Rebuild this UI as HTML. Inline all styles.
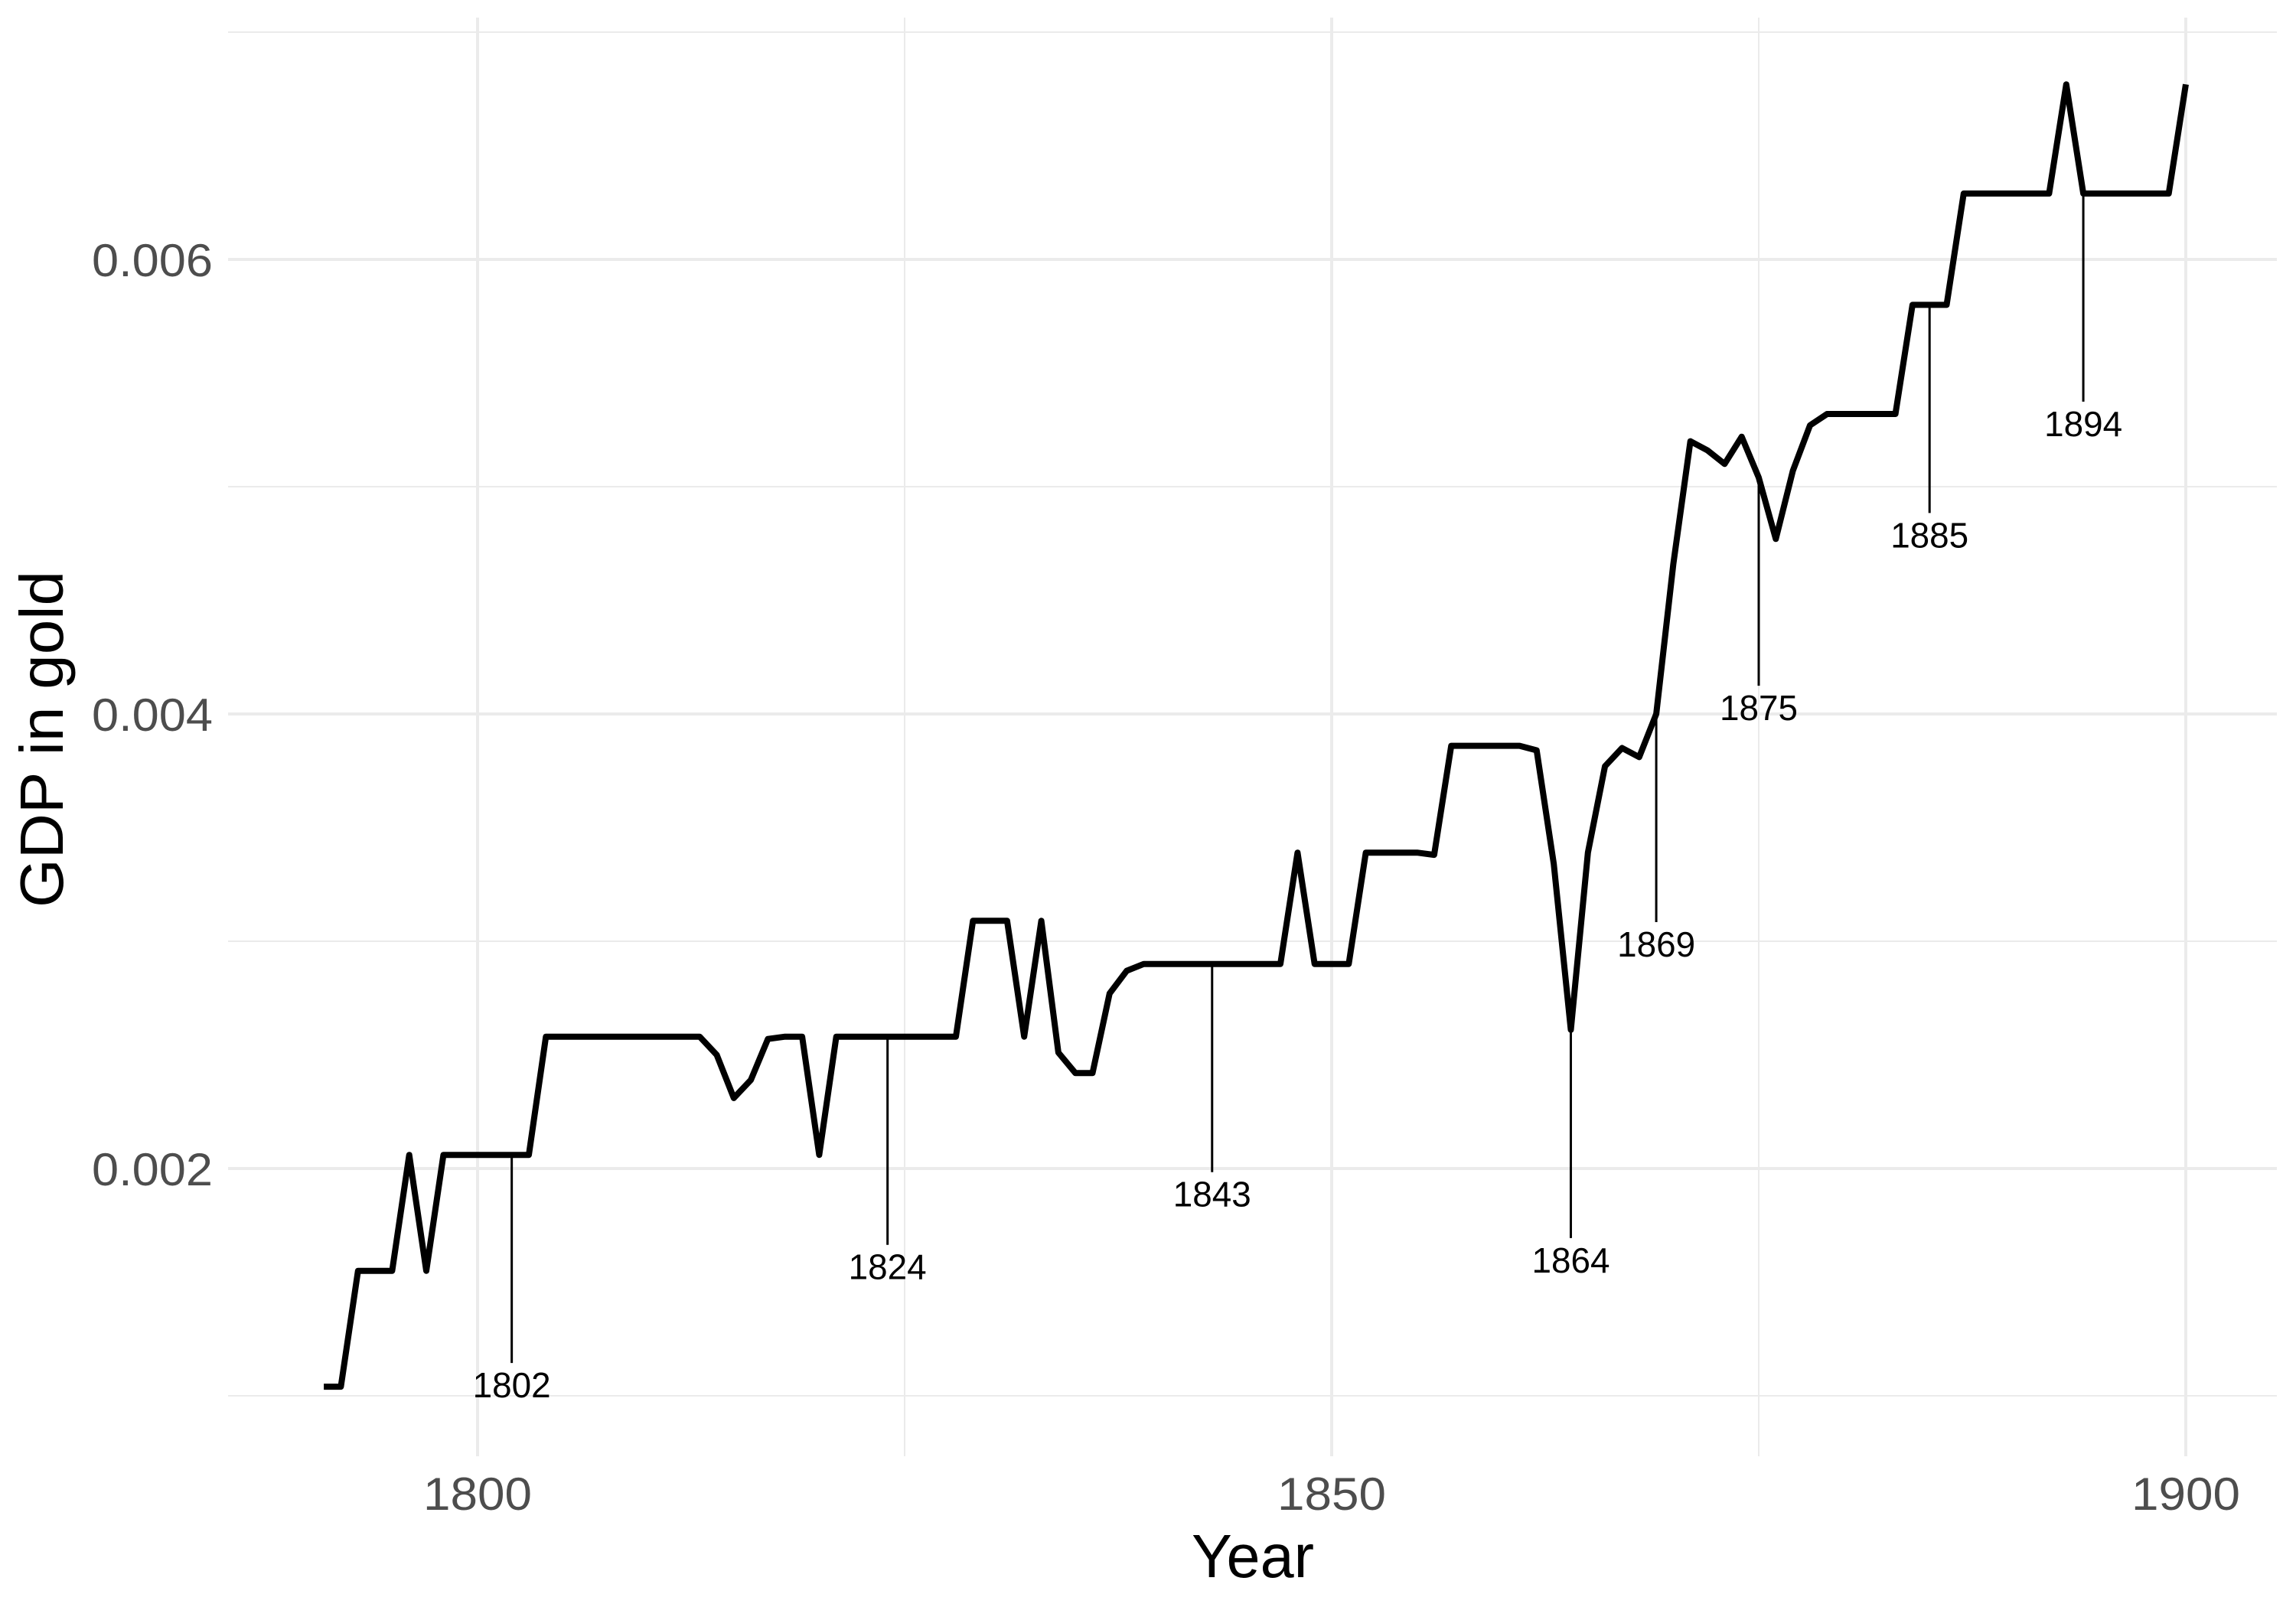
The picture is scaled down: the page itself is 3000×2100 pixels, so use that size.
<!DOCTYPE html>
<html><head><meta charset="utf-8"><style>
html,body{margin:0;padding:0;background:#fff;}
svg{display:block;font-family:"Liberation Sans",sans-serif;}
</style></head><body>
<svg id="chart" width="3000" height="2100" viewBox="0 0 3000 2100" xmlns="http://www.w3.org/2000/svg">
<rect x="0" y="0" width="3000" height="2100" fill="#fff"/>
<g id="grid"></g>
<g id="marks"></g>
<g id="axes"></g>
<text x="1637" y="2061" font-size="80" text-anchor="middle" fill="#000" textLength="160" lengthAdjust="spacingAndGlyphs">Year</text>
<text x="0" y="0" transform="translate(82,966) rotate(-90)" font-size="80" text-anchor="middle" fill="#000" textLength="440" lengthAdjust="spacingAndGlyphs">GDP in gold</text>
</svg>
<script>
const years = [1791,1792,1793,1794,1795,1796,1797,1798,1799,1800,1801,1802,1803,1804,1805,1806,1807,1808,1809,1810,1811,1812,1813,1814,1815,1816,1817,1818,1819,1820,1821,1822,1823,1824,1825,1826,1827,1828,1829,1830,1831,1832,1833,1834,1835,1836,1837,1838,1839,1840,1841,1842,1843,1844,1845,1846,1847,1848,1849,1850,1851,1852,1853,1854,1855,1856,1857,1858,1859,1860,1861,1862,1863,1864,1865,1866,1867,1868,1869,1870,1871,1872,1873,1874,1875,1876,1877,1878,1879,1880,1881,1882,1883,1884,1885,1886,1887,1888,1889,1890,1891,1892,1893,1894,1895,1896,1897,1898,1899,1900];
const gdp = [0.00104,0.00104,0.00155,0.00155,0.00155,0.00206,0.00155,0.00206,0.00206,0.00206,0.00206,0.00206,0.00206,0.00258,0.00258,0.00258,0.00258,0.00258,0.00258,0.00258,0.00258,0.00258,0.00258,0.00250,0.00231,0.00239,0.00257,0.00258,0.00258,0.00206,0.00258,0.00258,0.00258,0.00258,0.00258,0.00258,0.00258,0.00258,0.00309,0.00309,0.00309,0.00258,0.00309,0.00251,0.00242,0.00242,0.00277,0.00287,0.00290,0.00290,0.00290,0.00290,0.00290,0.00290,0.00290,0.00290,0.00290,0.00339,0.00290,0.00290,0.00290,0.00339,0.00339,0.00339,0.00339,0.00338,0.00386,0.00386,0.00386,0.00386,0.00386,0.00384,0.00334,0.00261,0.00339,0.00377,0.00385,0.00381,0.00400,0.00466,0.00520,0.00516,0.00510,0.00522,0.00504,0.00477,0.00507,0.00527,0.00532,0.00532,0.00532,0.00532,0.00532,0.00580,0.00580,0.00580,0.00629,0.00629,0.00629,0.00629,0.00629,0.00629,0.00677,0.00629,0.00629,0.00629,0.00629,0.00629,0.00629,0.00677];
const labelYears = [1802,1824,1843,1864,1869,1875,1885,1894];
const xTicks = [1800,1850,1900];
const xMinor = [1825,1875];
const yTicks = [0.002,0.004,0.006];
const yTickLabels = ["0.002","0.004","0.006"];
const yMinor = [0.001,0.003,0.005,0.007];

const NS="http://www.w3.org/2000/svg";
const X0=298, X1=2975, Y0=23, Y1=1903;
function xs(v){return 624+(v-1800)*(2856-624)/100;}
function ys(v){return 1527-(v-0.002)*297000;}
function mk(tag,attrs,parent){const e=document.createElementNS(NS,tag);for(const k in attrs)e.setAttribute(k,attrs[k]);parent.appendChild(e);return e;}
const grid=document.getElementById('grid'), marks=document.getElementById('marks'), axes=document.getElementById('axes');

yMinor.forEach(v=>{const l=mk('line',{x1:X0,x2:X1,y1:ys(v),y2:ys(v),stroke:'#ebebeb','stroke-width':2},grid);

});
xMinor.forEach(v=>{const l=mk('line',{x1:xs(v),x2:xs(v),y1:Y0,y2:Y1,stroke:'#ebebeb','stroke-width':2},grid);

});
yTicks.forEach((v,i)=>{const l=mk('line',{x1:X0,x2:X1,y1:ys(v),y2:ys(v),stroke:'#ebebeb','stroke-width':4},grid);


const t=mk('text',{x:278,y:ys(v)+22,'font-size':60,'text-anchor':'end',fill:'#4d4d4d',textLength:158,lengthAdjust:'spacingAndGlyphs'},axes);
t.textContent=yTickLabels[i];

});
xTicks.forEach(v=>{const l=mk('line',{x1:xs(v),x2:xs(v),y1:Y0,y2:Y1,stroke:'#ebebeb','stroke-width':4},grid);


const t=mk('text',{x:xs(v),y:1973,'font-size':60,'text-anchor':'middle',fill:'#4d4d4d',textLength:142,lengthAdjust:'spacingAndGlyphs'},axes);
t.textContent=String(v);

});

let d='';
years.forEach((yr,i)=>{d+=(i?'L':'M')+xs(yr).toFixed(1)+','+ys(gdp[i]).toFixed(1);});
const p=mk('path',{d:d,fill:'none',stroke:'#000','stroke-width':8,'stroke-linejoin':'round'},marks);



labelYears.forEach(yr=>{const i=years.indexOf(yr);const x=xs(yr),y=ys(gdp[i]);
const l=mk('line',{x1:x,x2:x,y1:y,y2:y+272,stroke:'#000','stroke-width':3},marks);


const t=mk('text',{x:x,y:y+272+45,'font-size':46,'text-anchor':'middle',fill:'#000',textLength:102,lengthAdjust:'spacingAndGlyphs'},marks);
t.textContent=String(yr);

});
</script>
</body></html>
